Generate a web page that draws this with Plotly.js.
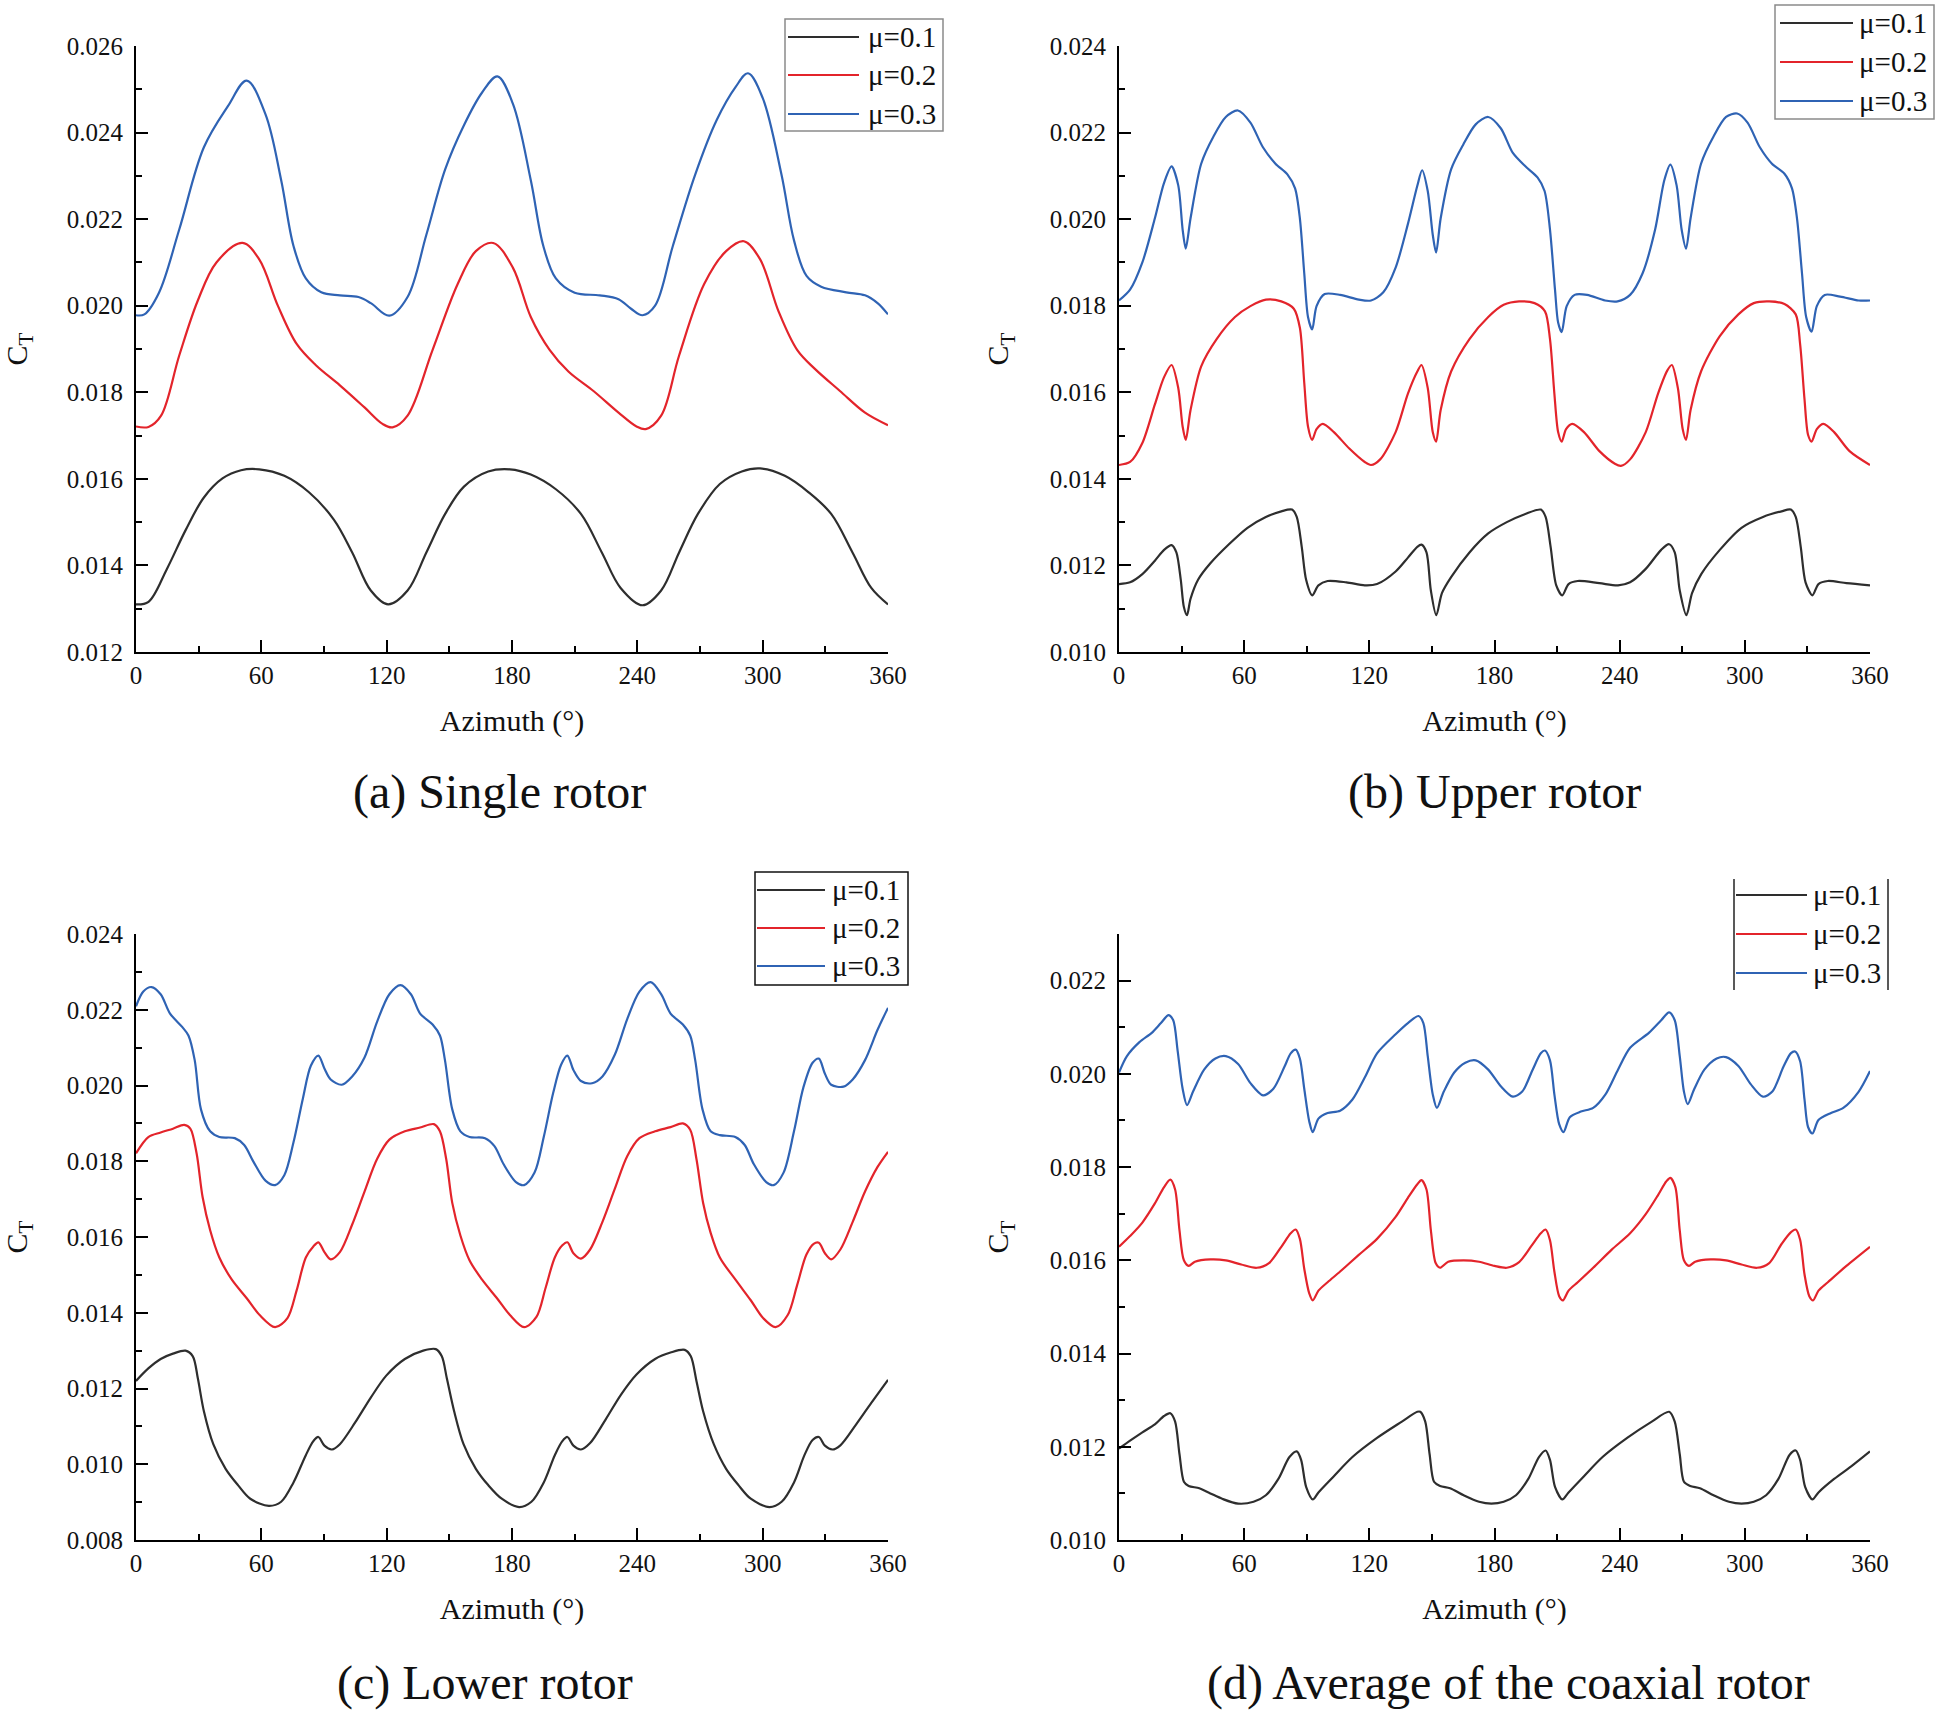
<!DOCTYPE html>
<html>
<head>
<meta charset="utf-8">
<script src="https://cdn.plot.ly/plotly-3.0.1.min.js"></script>
<style>html,body{margin:0;padding:0;background:#fff}#chart{width:1938px;height:1716px}</style>
</head>
<body>
<div id="chart"></div>
<script>
// ---------------- DATA ----------------
const seriesNames = ["μ=0.1", "μ=0.2", "μ=0.3"];
const panelCaptions = ["(a) Single rotor", "(b) Upper rotor", "(c) Lower rotor", "(d) Average of the coaxial rotor"];
const xTitle = "Azimuth (°)";
const yTitle = "C<sub>T</sub>";

// (a) Single rotor
const aX1 = [0,6,14.8,23.7,32.5,41.4,50.3,59,71,82.8,94.7,103.5,112.4,120.7,130,139,148,157,168.6,179,189,201,213,223,232,242.5,251.4,260,269,279.5,290,298.8,310.6,322,332.8,343,352,360];
const aY1 = [0.0131,0.01316,0.01392,0.01481,0.01557,0.01601,0.0162,0.01622,0.01607,0.01569,0.01506,0.0143,0.01342,0.0131,0.01342,0.0143,0.01519,0.01582,0.01617,0.01622,0.0161,0.01576,0.01519,0.0143,0.01348,0.01308,0.01342,0.0143,0.01519,0.01588,0.01617,0.01624,0.01607,0.01569,0.01519,0.0143,0.01348,0.0131];
const aX2 = [0,6,12,20.7,29.6,38.5,51,59,68,77,86,97.6,109.4,118,122.8,130,142,154,162.7,171,180.4,189,198,207,219,231,239.6,244,251.4,260,272,282.5,291,298.8,307.6,316.5,325,337,349,360];
const aY2 = [0.01721,0.0172,0.01746,0.01885,0.02012,0.021,0.02145,0.02107,0.01999,0.01911,0.01863,0.01816,0.01765,0.01727,0.01719,0.01746,0.01898,0.0205,0.02126,0.02145,0.02088,0.01974,0.01898,0.01848,0.01803,0.01753,0.01721,0.01715,0.01746,0.01885,0.0205,0.02126,0.02149,0.02107,0.01987,0.01898,0.01854,0.01803,0.01753,0.01724];
const aX3 = [0,4,11,20.7,32.5,44,53,62,69.5,75.4,81.3,88.7,97.6,106.5,112.4,121.3,130,139,148,157,165.6,173,180.4,189,195,201,210,222,231,237,242.5,248.5,257,267.7,278,287,293,300,309,315,321,328,340,349,355,360];
const aY3 = [0.01978,0.0198,0.0203,0.02176,0.02366,0.02461,0.0252,0.02442,0.0229,0.02138,0.02063,0.02031,0.02024,0.0202,0.02006,0.01977,0.0202,0.02164,0.02315,0.02417,0.02492,0.0253,0.02467,0.0229,0.02138,0.02063,0.0203,0.02024,0.02015,0.01993,0.01978,0.02,0.02138,0.02303,0.02429,0.02505,0.02537,0.0248,0.02303,0.02151,0.02069,0.02044,0.02031,0.02024,0.02006,0.0198];

// (b) Upper rotor
const bX1 = [0,5.3,11.2,17.2,21.6,25.2,27.5,29.6,31.1,32.6,34.3,37.9,43.8,52.7,61.6,70.4,77.8,82.9,85.2,87.6,89.7,92.6,95.6,100,109,117.8,123.7,132.6,138.5,143,145,147.4,149.5,152.1,154.8,159.2,168,177,185.9,194.8,202.2,204.5,206.9,209.6,212.5,215.5,219.9,230.3,239.2,245,252.5,259.9,263.7,266.4,268.8,272,274.7,279.1,288,298.4,308.7,317.6,322,324.4,326.8,329.1,332.4,335.3,339.8,348.7,360];
const bY1 = [0.01157,0.01161,0.0118,0.01211,0.01236,0.01247,0.0123,0.01167,0.01104,0.01085,0.01123,0.01167,0.01205,0.01249,0.01287,0.01312,0.01325,0.01329,0.01312,0.01243,0.01167,0.01131,0.01154,0.01164,0.01161,0.01154,0.01157,0.01186,0.01218,0.01243,0.01248,0.0123,0.01142,0.01085,0.01136,0.01173,0.0123,0.01274,0.013,0.01319,0.01329,0.01312,0.01243,0.01154,0.01131,0.01157,0.01164,0.01159,0.01154,0.01161,0.01192,0.01236,0.01249,0.0123,0.01142,0.01085,0.01136,0.0118,0.01236,0.01287,0.01312,0.01325,0.01329,0.01312,0.01243,0.01161,0.01131,0.01157,0.01164,0.01159,0.01154];
const bX2 = [0,5.3,11.2,17.2,21.6,25.2,28.4,30.5,32,34.3,39.4,46.8,55.6,63,70.4,77.8,83.8,86.7,88.8,90.6,92.6,94.7,97.7,103,110.4,117.8,120.8,125.2,132.6,138.5,143,145,148,150.4,152,154.2,159.2,168,177,184.4,191.8,199.2,204.2,206.6,208.7,210.5,212.2,214.3,217.3,222.9,230.3,237.7,240.6,245,252.5,258.4,262.8,265,267.9,270.2,271.8,274,279,288,296.9,304.3,311.7,319,324.4,326.5,328.6,330.3,332,334.5,337.7,342.8,350.2,360];
const bY2 = [0.01432,0.01439,0.01483,0.01572,0.01635,0.01663,0.0161,0.01521,0.0149,0.01559,0.0166,0.01723,0.01774,0.01799,0.01814,0.0181,0.01793,0.01749,0.01622,0.01521,0.0149,0.01515,0.01527,0.01508,0.0147,0.01439,0.01432,0.01445,0.01508,0.01597,0.01648,0.01663,0.0161,0.01508,0.01486,0.01559,0.01648,0.01723,0.01774,0.01802,0.0181,0.01806,0.01787,0.01723,0.01597,0.01508,0.01486,0.01515,0.01527,0.01508,0.01464,0.01435,0.0143,0.01445,0.01508,0.01597,0.0165,0.01663,0.0161,0.01515,0.0149,0.01559,0.01648,0.0173,0.0178,0.01806,0.0181,0.01804,0.0178,0.01711,0.01584,0.01502,0.01486,0.01515,0.01527,0.01508,0.01464,0.01432];
const bX3 = [0,5.3,11.2,17.2,21.6,25.2,28.4,30.5,32,34.3,39.4,45.3,51.2,57,63,69,75,80.8,84.4,86.7,88.8,90.6,92.6,94.7,98.6,106,115,120.8,126.7,132.6,138.5,143,145.3,148,150.4,152,154.2,159.2,165,171,177,183,188.8,194.8,200.7,204,206.6,209,210.5,212.2,214.6,218.4,224.4,233,239,245,251,257,261.4,264.3,267.3,269.7,271.8,274,279,285,291,296.3,301.3,307.2,313,319,322.6,325,327.4,329.4,332,334.5,338.3,345.7,354.6,360];
const bY3 = [0.01812,0.01837,0.019,0.02002,0.02084,0.02122,0.02078,0.01976,0.01932,0.02002,0.02128,0.02191,0.02236,0.02251,0.02223,0.02166,0.02128,0.02103,0.02071,0.02002,0.01875,0.01774,0.01745,0.01799,0.01827,0.01825,0.01814,0.01812,0.01831,0.01888,0.01989,0.02077,0.02113,0.02065,0.01964,0.01923,0.02002,0.02115,0.02172,0.02219,0.02236,0.0221,0.02153,0.02122,0.02096,0.02065,0.01976,0.01837,0.01761,0.01739,0.01799,0.01825,0.01825,0.01812,0.0181,0.01825,0.01875,0.01976,0.0209,0.02126,0.02078,0.01976,0.01932,0.02002,0.02128,0.02191,0.02236,0.02244,0.02223,0.02166,0.02128,0.02105,0.02071,0.02002,0.01875,0.01774,0.0174,0.01799,0.01825,0.01821,0.01812,0.01812];

// (c) Lower rotor
const cX1 = [0,5.9,11.8,17.7,23.7,27.2,29.6,32.5,37,42.9,48.8,54.7,63.6,69.5,75.4,81.3,84.9,87.3,90.2,93.8,97.6,105,112.4,119.8,128.7,137.5,143.5,146.4,148.8,152.3,156.8,162.7,168.6,175.1,183.4,189.3,195.2,200.5,204.1,206.5,209.4,213,217.4,224.8,232.2,239.6,248.5,255.9,262.7,265.6,268.3,271.5,276.6,282.5,288.4,294.3,303.2,309.1,315,320,323.9,326.9,329.8,333.4,337.2,344.6,352,360];
const cY1 = [0.0122,0.01253,0.01278,0.01292,0.013,0.01285,0.01227,0.0114,0.01053,0.00988,0.00945,0.00909,0.0089,0.00901,0.00952,0.01024,0.01061,0.01072,0.01049,0.01039,0.01053,0.01111,0.01176,0.01234,0.01278,0.013,0.01304,0.01285,0.01227,0.0114,0.01053,0.00988,0.00945,0.00909,0.00887,0.00901,0.00952,0.01024,0.01061,0.01072,0.01049,0.01039,0.01056,0.01118,0.01184,0.01237,0.01278,0.01295,0.01302,0.01285,0.0122,0.0114,0.01053,0.00988,0.00945,0.00909,0.00887,0.00901,0.00952,0.01024,0.01064,0.01072,0.01049,0.01039,0.0105,0.01104,0.01162,0.01223];
const cX2 = [0,5.9,11.8,17.7,23.1,26,29,31.9,35.5,39.9,45.8,53.2,59.2,66.6,72.5,76.9,81.3,84.9,87.3,90.2,93.2,97.6,103.5,109.4,115.4,121.3,128.7,136,142.6,145.5,148.5,151.4,155.3,159.7,165.6,173,179,185.8,191.7,196.1,200.5,204.1,206.5,209.4,213,217.4,223.3,229.2,235.2,241,248.5,255.9,261.8,265.3,268.3,271.5,275.1,279.5,286.9,294.3,300.2,306.2,312,316.5,320.9,324.4,326.9,329.8,332.8,337.2,343.1,349,355,360];
const cY2 = [0.01821,0.01864,0.01876,0.01886,0.01896,0.01886,0.01821,0.01705,0.01618,0.01546,0.01488,0.01437,0.01394,0.01362,0.01386,0.01459,0.01546,0.01575,0.01586,0.0156,0.01541,0.0156,0.01633,0.0172,0.01806,0.01857,0.01879,0.01889,0.01898,0.01879,0.01806,0.0169,0.01604,0.01538,0.01488,0.01437,0.01394,0.01362,0.01389,0.01466,0.01546,0.01578,0.01586,0.01557,0.01543,0.01567,0.0164,0.01727,0.01814,0.01861,0.01879,0.0189,0.019,0.01883,0.01806,0.0169,0.01611,0.01546,0.01488,0.01433,0.01386,0.01362,0.01394,0.01473,0.01553,0.01582,0.01585,0.01557,0.01541,0.01567,0.0164,0.0172,0.01785,0.01825];
const cX3 = [0,3.5,7.4,11.8,16.3,22.2,25.1,28.1,31.1,35.5,39.9,47.3,51.8,56.2,62.1,66.6,71,75.4,79.9,83.7,87.3,90.2,93.2,98.5,103.5,109.4,115.4,121.3,126.6,131.6,136,142,145.5,147.9,151.4,155.3,159.7,167.1,171.6,176,181.9,185.8,190.8,195.2,199.7,203.5,206.5,209.4,213,218.3,223.3,229.2,235.2,241,246.4,251.4,255.9,261.8,265.3,267.7,271.2,275.1,279.5,286.9,291.4,295.8,301.7,305.3,310,315,319.5,323.9,326.9,329.8,332.8,338.7,343.1,349,355,360];
const cY3 = [0.02209,0.02248,0.0226,0.02241,0.0219,0.02154,0.02132,0.02067,0.01937,0.01879,0.01864,0.01861,0.01843,0.01799,0.01748,0.01737,0.01763,0.0185,0.01966,0.02052,0.02079,0.02045,0.02016,0.02002,0.02024,0.02074,0.02168,0.02241,0.02265,0.02241,0.0219,0.02161,0.02132,0.02067,0.01937,0.01879,0.01864,0.01861,0.0184,0.01792,0.01745,0.01737,0.0177,0.01864,0.0198,0.02055,0.02079,0.02041,0.02012,0.02006,0.02024,0.02081,0.02176,0.02248,0.02273,0.02241,0.0219,0.02161,0.02132,0.02067,0.01937,0.01879,0.01869,0.01864,0.01843,0.01792,0.01745,0.01737,0.0177,0.01879,0.01995,0.0206,0.02071,0.02031,0.02002,0.01997,0.02016,0.02067,0.02147,0.02205];

// (d) Average of the coaxial rotor
const dX1 = [0,5.3,11.2,17.2,21.6,24.6,26.9,29,31.1,33.4,38.5,43.8,49.7,57.1,64.5,70.4,76.4,81.7,85.2,87.3,89.7,92.9,95.6,103,111.9,123.7,135.6,143,144.4,146.8,148.9,151,153.9,158.7,165.2,172.6,178.5,184.4,190.3,196.2,201.3,204.5,206.6,209,212.5,215.5,222.9,231.8,243.6,255.4,263.7,266.4,268.8,270.8,273.8,278.5,285,292.4,298.4,304.3,310.2,316.1,321.5,324.4,326.5,328.9,332.4,335.3,342.8,351.6,360];
const dY1 = [0.01196,0.01213,0.01231,0.01248,0.01266,0.01272,0.01254,0.01184,0.01125,0.01116,0.01111,0.011,0.01088,0.01078,0.01082,0.01096,0.01131,0.01178,0.0119,0.01172,0.01114,0.01087,0.01102,0.01137,0.01178,0.01219,0.01254,0.01275,0.01275,0.01254,0.01184,0.01125,0.01116,0.01111,0.01096,0.01082,0.01078,0.01082,0.01096,0.01131,0.01178,0.01192,0.01172,0.01114,0.01087,0.01102,0.01137,0.01178,0.01219,0.01254,0.01275,0.01254,0.01184,0.01125,0.01116,0.01111,0.01096,0.01082,0.01078,0.01082,0.01096,0.01131,0.01183,0.01192,0.01172,0.01114,0.01087,0.01102,0.01131,0.0116,0.0119];
const dX2 = [0,5.3,11.2,17.2,21.6,24.6,26.9,29,31.1,33.4,36.4,43.8,51.2,58.6,66,71.9,77.8,82.3,84.7,86.7,88.8,91.2,92.9,95.6,100,106,114.8,123.7,132.6,138.5,143,145,147.4,149.5,151.8,153.9,157.8,165.2,172.6,180,185.9,191.8,197.7,202.2,204.5,206.6,208.7,211,212.8,215.5,219.9,227.3,236.2,245,252.5,258.4,262.3,264.3,266.7,268.8,270.8,273.2,276.2,283.6,291,298.4,305.8,311.7,317.6,322,324.4,326.5,328.6,330.9,332.7,335.3,339.8,348.7,360];
const dY2 = [0.01629,0.01652,0.01681,0.01722,0.01757,0.01773,0.01752,0.01664,0.016,0.01588,0.01597,0.01602,0.016,0.01591,0.01584,0.01594,0.01629,0.01658,0.01666,0.01646,0.01582,0.01529,0.01514,0.01535,0.01553,0.01576,0.01611,0.01646,0.01693,0.01734,0.01763,0.01772,0.01752,0.01664,0.01594,0.01584,0.01597,0.016,0.01597,0.01588,0.01584,0.01596,0.01631,0.01658,0.01666,0.01643,0.01576,0.01523,0.01514,0.01535,0.01553,0.01584,0.01623,0.01658,0.01699,0.0174,0.01769,0.01777,0.01757,0.01664,0.016,0.01588,0.01597,0.01602,0.016,0.01591,0.01584,0.01594,0.01635,0.0166,0.01666,0.01644,0.0157,0.01523,0.01514,0.01535,0.01553,0.01588,0.01629];
const dX3 = [0,3.8,9.8,15.7,20.1,23.7,26,28.1,30.5,32.6,35.5,40.8,46.2,51.2,57.1,63,69,74,79.3,82.3,84.7,86.7,88.8,91.2,92.9,95.6,100,106,111.9,117.8,123.7,132.6,138.5,143.6,145.9,148,150.4,152.4,155.7,160.7,166,171,177,182.9,188.8,193.3,198.3,202.2,204.2,206.6,208.7,211,213.1,216.1,221.4,227.3,233.2,239.2,245,254,259.9,263.7,266.4,268.8,270.8,272.6,275.6,280.6,286.5,291,296.9,302.8,308.7,313.2,318.5,322,324.1,326.5,328.6,330.3,332.4,335.3,341.3,347.2,354.6,360];
const dY3 = [0.02003,0.02038,0.02068,0.02088,0.02109,0.02126,0.02115,0.0205,0.01968,0.01933,0.01962,0.02009,0.02033,0.02038,0.02021,0.0198,0.01954,0.01968,0.02015,0.02044,0.02052,0.02033,0.01968,0.01898,0.01875,0.01904,0.01916,0.01921,0.01945,0.01992,0.02044,0.02085,0.02109,0.02124,0.02109,0.02038,0.01956,0.01927,0.01962,0.02003,0.02024,0.02029,0.02009,0.01974,0.01951,0.01962,0.02009,0.02044,0.0205,0.02029,0.01956,0.01892,0.01875,0.01907,0.01919,0.01927,0.01956,0.02009,0.02056,0.02088,0.02115,0.02132,0.02115,0.02038,0.01962,0.01935,0.01966,0.02009,0.02033,0.02036,0.02017,0.01978,0.01951,0.01962,0.02015,0.02044,0.02048,0.02027,0.01945,0.01886,0.01872,0.01901,0.01916,0.01927,0.01962,0.02006];

const xTickVals = [0, 60, 120, 180, 240, 300, 360];

// ---------------- STYLE / LAYOUT ----------------
const W = 1938, H = 1716;
const colors = ["#2e2e2e", "#e3242b", "#2f63b4"];
const FONT = "Liberation Serif, Times New Roman, serif";
const fx = p => p / W, fy = p => 1 - p / H;

const panels = [
  {xs:[aX1,aX2,aX3], ys:[aY1,aY2,aY3], range:[0.012,0.026], xdom:[136,888], ydom:[46,652], smooth:1.0},
  {xs:[bX1,bX2,bX3], ys:[bY1,bY2,bY3], range:[0.010,0.024], xdom:[1119,1870], ydom:[46,652], smooth:0.8},
  {xs:[cX1,cX2,cX3], ys:[cY1,cY2,cY3], range:[0.008,0.024], xdom:[136,888], ydom:[934,1540], smooth:0.9},
  {xs:[dX1,dX2,dX3], ys:[dY1,dY2,dY3], range:[0.010,0.023], xdom:[1119,1870], ydom:[934,1540], smooth:0.8}
];

const traces = [];
const layout = {
  width: W, height: H, margin: {l:0, r:0, t:0, b:0},
  paper_bgcolor: "#fff", plot_bgcolor: "#fff", showlegend: false,
  font: {family: FONT, color: "#111"},
  shapes: [], annotations: []
};

panels.forEach((p, i) => {
  const n = i === 0 ? "" : String(i + 1);
  p.xs.forEach((xs, k) => {
    traces.push({
      type: "scatter", mode: "lines", name: seriesNames[k],
      x: xs, y: p.ys[k], xaxis: "x" + n, yaxis: "y" + n,
      line: {color: colors[k], width: 2.2, shape: "spline", smoothing: p.smooth},
      hoverinfo: "x+y"
    });
  });
  const common = {
    showline: true, linecolor: "#000", linewidth: 2, showgrid: false, zeroline: false,
    ticks: "inside", ticklen: 12, tickwidth: 2, tickcolor: "#000",
    tickfont: {family: FONT, size: 25, color: "#111"}, automargin: false, fixedrange: true
  };
  layout["xaxis" + n] = Object.assign({}, common, {
    domain: [fx(p.xdom[0]), fx(p.xdom[1])], anchor: "y" + n, range: [0, 360],
    tickvals: xTickVals, ticklabelstandoff: 0,
    minor: {tickvals: [30, 90, 150, 210, 270, 330], ticks: "inside", ticklen: 6, tickwidth: 2, tickcolor: "#000"},
    title: {text: xTitle, font: {family: FONT, size: 30, color: "#111"}, standoff: 22}
  });
  layout["yaxis" + n] = Object.assign({}, common, {
    domain: [fy(p.ydom[1]), fy(p.ydom[0])], anchor: "x" + n, range: p.range,
    dtick: 0.002, tick0: 0, tickformat: ".3f", ticklabelstandoff: 6,
    minor: {dtick: 0.001, ticks: "inside", ticklen: 6, tickwidth: 2, tickcolor: "#000"},
    title: {text: yTitle, font: {family: FONT, size: 30, color: "#111"}, standoff: 32}
  });
});

// captions
const capPos = [[499, 792], [1494, 792], [485, 1683], [1508, 1683]];
panelCaptions.forEach((t, i) => {
  layout.annotations.push({
    text: t, xref: "paper", yref: "paper", x: fx(capPos[i][0]), y: fy(capPos[i][1]),
    xanchor: "center", yanchor: "middle", showarrow: false,
    font: {family: FONT, size: 48, color: "#111"}
  });
});

// legends (drawn per panel)
const legends = [
  {box:[785,19,943,131], line:[788,859], rows:[37,75,114], tx:866, border:"all", bc:"#8a8a8a"},
  {box:[1775,5,1934,119], line:[1780,1853], rows:[23,62,101], tx:1857, border:"all", bc:"#8a8a8a"},
  {box:[755,872,908,985], line:[757,825], rows:[890,928,966], tx:830, border:"all", bc:"#111"},
  {box:[1734,879,1888,990], line:[1736,1807], rows:[895,934,973], tx:1811, border:"sides", bc:"#222"}
];
legends.forEach(L => {
  const [x0, y0, x1, y1] = L.box;
  if (L.border === "all") {
    layout.shapes.push({type:"rect", xref:"paper", yref:"paper", x0:fx(x0), x1:fx(x1), y0:fy(y1), y1:fy(y0),
      line:{color:L.bc, width:1.5}, fillcolor:"rgba(255,255,255,1)", layer:"above"});
  } else {
    [x0, x1].forEach(xx => layout.shapes.push({type:"line", xref:"paper", yref:"paper", x0:fx(xx), x1:fx(xx), y0:fy(y1), y1:fy(y0),
      line:{color:L.bc, width:1.5}}));
  }
  L.rows.forEach((r, k) => {
    layout.shapes.push({type:"line", xref:"paper", yref:"paper", x0:fx(L.line[0]), x1:fx(L.line[1]), y0:fy(r), y1:fy(r),
      line:{color:colors[k], width:2.2}});
    layout.annotations.push({text: seriesNames[k], xref:"paper", yref:"paper", x: fx(L.tx), y: fy(r),
      xanchor:"left", yanchor:"middle", showarrow:false, font:{family:FONT, size:29, color:"#111"}});
  });
});

Plotly.newPlot("chart", traces, layout, {displayModeBar: false, staticPlot: true});
</script>
</body>
</html>
